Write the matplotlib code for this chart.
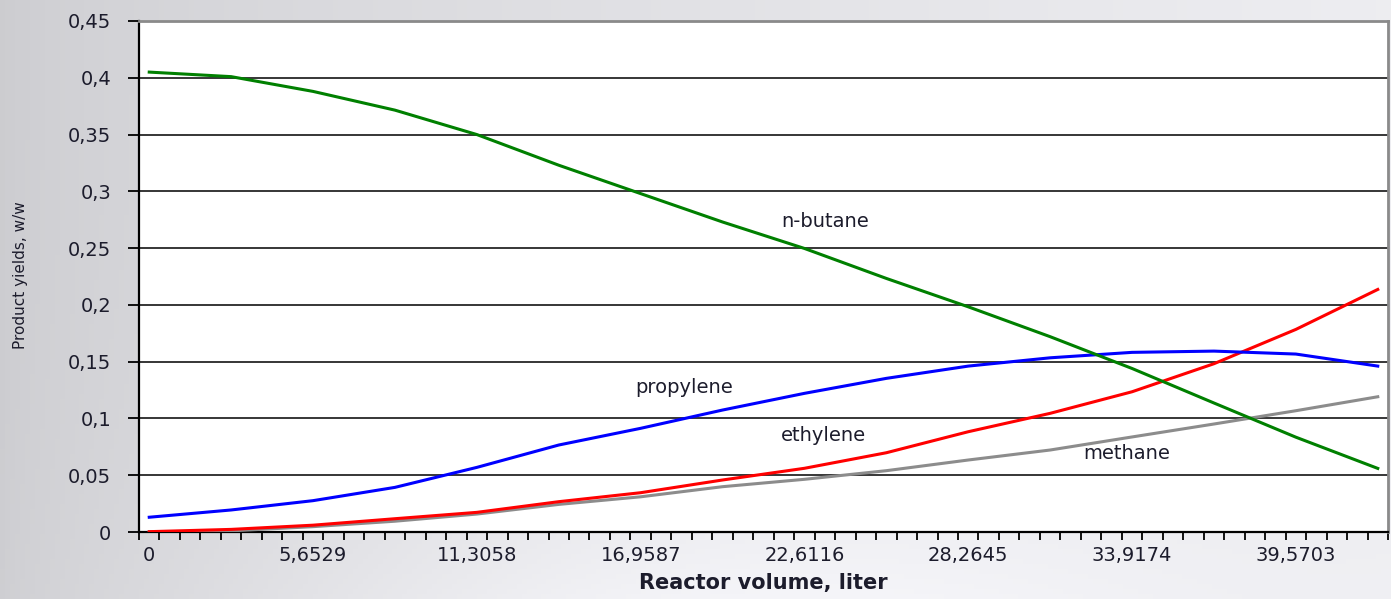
import numpy as np
import matplotlib
matplotlib.use("Agg")
import matplotlib.pyplot as plt
from matplotlib.ticker import FixedLocator, NullFormatter

# Reactor volume (liter) at every 4th calculation step
volume = [0.0, 2.8265, 5.6529, 8.4794, 11.3058, 14.1323, 16.9587, 19.7852,
          22.6116, 25.4381, 28.2645, 31.0910, 33.9174, 36.7439, 39.5703, 42.3968]
step = 0.7066125  # volume increment of one calculation step
n_steps = 61

# Product yields, w/w
n_butane = [0.405, 0.401, 0.388, 0.3715, 0.350, 0.323, 0.298, 0.273,
            0.2497, 0.2233, 0.1983, 0.172, 0.144, 0.1136, 0.0835, 0.056]
propylene = [0.013, 0.0194, 0.0276, 0.0393, 0.0569, 0.0766, 0.0913, 0.1074,
             0.1221, 0.1353, 0.1461, 0.1534, 0.1582, 0.1593, 0.1567, 0.1461]
ethylene = [0.0003, 0.0023, 0.0060, 0.0117, 0.0173, 0.0267, 0.0346, 0.0458,
            0.0561, 0.0698, 0.0883, 0.1045, 0.1235, 0.1482, 0.1784, 0.2136]
methane = [0.0, 0.001, 0.0047, 0.0095, 0.0158, 0.0243, 0.031, 0.0399,
           0.0464, 0.054, 0.0634, 0.0722, 0.0837, 0.0951, 0.1068, 0.1191]

x_tick_values = [0, 5.6529, 11.3058, 16.9587, 22.6116, 28.2645, 33.9174, 39.5703]
x_tick_labels = ["0", "5,6529", "11,3058", "16,9587", "22,6116", "28,2645",
                 "33,9174", "39,5703"]
y_tick_values = [0, 0.05, 0.1, 0.15, 0.2, 0.25, 0.3, 0.35, 0.4, 0.45]
y_tick_labels = ["0", "0,05", "0,1", "0,15", "0,2", "0,25", "0,3", "0,35", "0,4", "0,45"]

plt.rcParams["font.family"] = ["DejaVu Sans"]
text_color = "#1c1c2c"

fig = plt.figure(figsize=(13.91, 5.99), dpi=100)

# soft grey slide background
bg = fig.add_axes([0, 0, 1, 1], zorder=-10)
h, w = 120, 280
yy, xx = np.mgrid[0:h, 0:w]
xs = xx / (w - 1)
ys = yy / (h - 1)
shade = 0.80 + 0.13 * xs ** 0.6
shade += 0.07 * np.exp(-((xs - 0.5) / 0.35) ** 2) * ys ** 3
shade = np.clip(shade, 0, 0.96)
rgb = np.dstack([shade, shade, shade + 0.015])
bg.imshow(np.clip(rgb, 0, 1), aspect="auto", extent=[0, 1, 0, 1], origin="upper")
bg.axis("off")

ax = fig.add_axes([139 / 1391, 67 / 599, 1249 / 1391, 511 / 599])
ax.set_facecolor("white")

ax.plot(volume, methane, color="#8c8c8c", lw=2.2, zorder=3)
ax.plot(volume, ethylene, color="#ff0000", lw=2.2, zorder=4)
ax.plot(volume, propylene, color="#0000ff", lw=2.2, zorder=4)
ax.plot(volume, n_butane, color="#008000", lw=2.2, zorder=5)

ax.set_xlim(-0.5 * step, (n_steps - 0.5) * step)
ax.set_ylim(0, 0.45)

ax.set_yticks(y_tick_values)
ax.set_yticklabels(y_tick_labels)
ax.set_xticks(x_tick_values)
ax.set_xticklabels(x_tick_labels)
ax.xaxis.set_minor_locator(FixedLocator([(k - 0.5) * step for k in range(n_steps + 1)]))
ax.xaxis.set_minor_formatter(NullFormatter())

ax.tick_params(axis="y", direction="out", length=8, width=1.3, colors="black",
               labelcolor=text_color, labelsize=14, pad=12)
ax.tick_params(axis="x", which="major", length=0, labelcolor=text_color,
               labelsize=14, pad=10)
ax.tick_params(axis="x", which="minor", direction="out", length=6, width=1.3,
               colors="black")

ax.yaxis.grid(True, color="black", lw=1.1)
ax.set_axisbelow(True)

for side in ("left", "bottom"):
    ax.spines[side].set_color("black")
    ax.spines[side].set_linewidth(1.6)
for side in ("top", "right"):
    ax.spines[side].set_color("#8a8a8a")
    ax.spines[side].set_linewidth(2.0)

ax.set_xlabel("Reactor volume, liter", fontsize=15, fontweight="bold",
              color=text_color, labelpad=6)
ax.set_ylabel("Product yields, w/w", fontsize=11, color=text_color)
ax.yaxis.set_label_coords(-0.089, 0.503)

# series labels next to the curves
label_style = dict(fontsize=14, color=text_color, va="center", ha="left", zorder=6)
ax.text(21.8, 0.2738, "n-butane", **label_style)
ax.text(16.76, 0.1270, "propylene", **label_style)
ax.text(21.8, 0.0848, "ethylene", **label_style)
ax.text(32.22, 0.0687, "methane", **label_style)

fig.savefig("out.png", dpi=100)
